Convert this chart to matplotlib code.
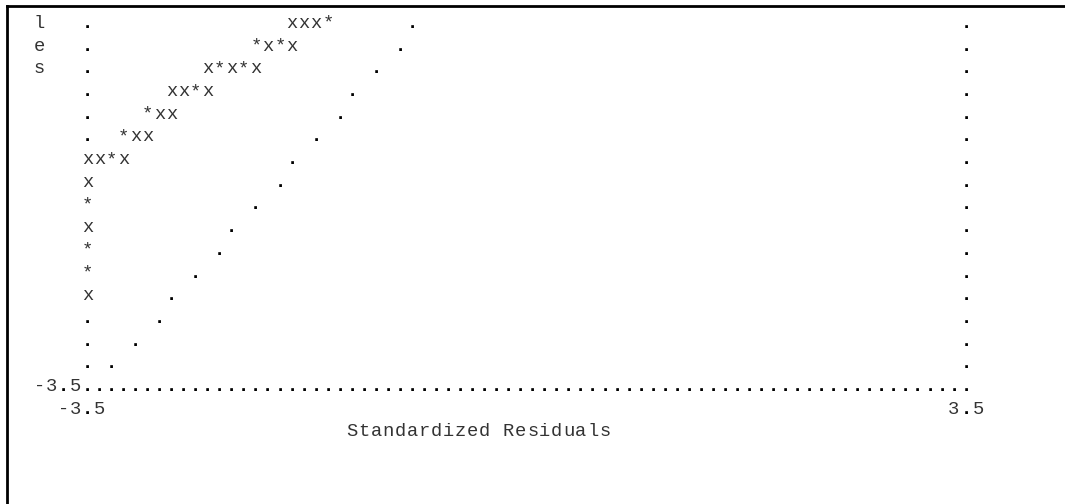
import matplotlib
matplotlib.use("Agg")
import matplotlib.pyplot as plt
from matplotlib.lines import Line2D

# character-plot scale: 73 columns span the residual range, rows use the same range over 43 lines
XMIN, XMAX, NCOLS = -3.5, 3.5, 73
YMIN, YMAX, NROWS = -3.5, 3.5, 43
XSTEP = (XMAX - XMIN) / NCOLS
YSTEP = (YMAX - YMIN) / NROWS
TOP_ROW = 16  # rows above this are outside the visible window

# points plotted with "x"
x_resid = [-1.87, -1.77, -1.68, -2.06, -1.87, -2.54, -2.35, -2.16, -2.83, -2.73, -2.54,
           -2.92, -2.83, -3.12, -3.02, -3.50, -3.40, -3.21, -3.50, -3.50, -3.50]
x_score = [-0.90, -0.90, -0.90, -1.06, -1.06, -1.22, -1.22, -1.22, -1.38, -1.38, -1.38,
           -1.55, -1.55, -1.71, -1.71, -1.87, -1.87, -1.87, -2.03, -2.36, -2.85]

# points plotted with "*"
star_resid = [-1.58, -2.16, -1.97, -2.45, -2.25, -2.64, -3.02, -3.21, -3.31, -3.50, -3.50, -3.50]
star_score = [-0.90, -1.06, -1.06, -1.22, -1.22, -1.38, -1.55, -1.71, -1.87, -2.20, -2.52, -2.69]

# reference line, one dot per line of the plot
ref_resid = [-3.31, -3.12, -2.92, -2.83, -2.64, -2.45, -2.35, -2.16,
             -1.97, -1.87, -1.68, -1.49, -1.39, -1.20, -1.01, -0.91]
ref_score = [-3.34, -3.17, -3.01, -2.85, -2.69, -2.52, -2.36, -2.20,
             -2.03, -1.87, -1.71, -1.55, -1.38, -1.22, -1.06, -0.90]

x_ticks = ["-3.5", "3.5"]
y_tick = "-3.5"
x_title = "Standardized Residuals"
y_title_tail = "les"

FONT = "Liberation Mono"
FS = 13.5
INK = "#333333"


def to_cell(x, y):
    c = round((min(max(x, XMIN), XMAX) - XMIN) / XSTEP)
    r = round((min(max(y, YMIN), YMAX) - YMIN) / YSTEP)
    return c, r


cells = {}

# frame: bottom line and both sides
for c in range(NCOLS + 1):
    cells[(c, 0)] = "."
for r in range(1, TOP_ROW + 1):
    cells[(0, r)] = "."
    cells[(NCOLS, r)] = "."

for x, y in zip(ref_resid, ref_score):
    cells[to_cell(x, y)] = "."
for x, y in zip(x_resid, x_score):
    cells[to_cell(x, y)] = "x"
for x, y in zip(star_resid, star_score):
    cells[to_cell(x, y)] = "*"


def put_text(s, col, row):
    for i, ch in enumerate(s):
        if ch != " ":
            cells[(col + i, row)] = ch


# tick labels and titles
put_text(y_tick, -len(y_tick), 0)
put_text(x_ticks[0], -2, -1)
put_text(x_ticks[1], NCOLS - 1, -1)
put_text(x_title, 22, -2)
for i, ch in enumerate(y_title_tail):
    cells[(-4, TOP_ROW - i)] = ch

fig = plt.figure(figsize=(10.65, 5.04), dpi=100)
ax = fig.add_axes([0, 0, 1, 1])
ax.set_axis_off()

# pixel placement of the grid: column 0 at x=87.3, column 73 at x=966; row 0 baseline at y=391
W, H = 1065, 504
X0, X1, BASE0 = 87.3, 966.0, 391.0
px_per_x = (X1 - X0) / (XMAX - XMIN)
row_px = 22.69
px_per_y = row_px / YSTEP
ax.set_xlim(XMIN - X0 / px_per_x, XMAX + (W - X1) / px_per_x)
ax.set_ylim(YMIN - (H - BASE0) / px_per_y, YMIN + BASE0 / px_per_y)

for (c, r), ch in cells.items():
    if r > TOP_ROW:
        continue
    is_dot = ch == "."
    ax.text(XMIN + c * XSTEP, YMIN + r * YSTEP, ch, ha="center", va="baseline",
            fontfamily=FONT, fontsize=FS,
            fontweight="bold" if is_dot else "normal",
            color="black" if is_dot else INK)

# window border on the left and top
bx, by = 7.0 / W, 1 - 6.0 / H
fig.add_artist(Line2D([bx, bx], [0, by], transform=fig.transFigure, color="black", lw=2.0))
fig.add_artist(Line2D([bx, 1], [by, by], transform=fig.transFigure, color="black", lw=2.0))

fig.savefig("out.png", dpi=100)
